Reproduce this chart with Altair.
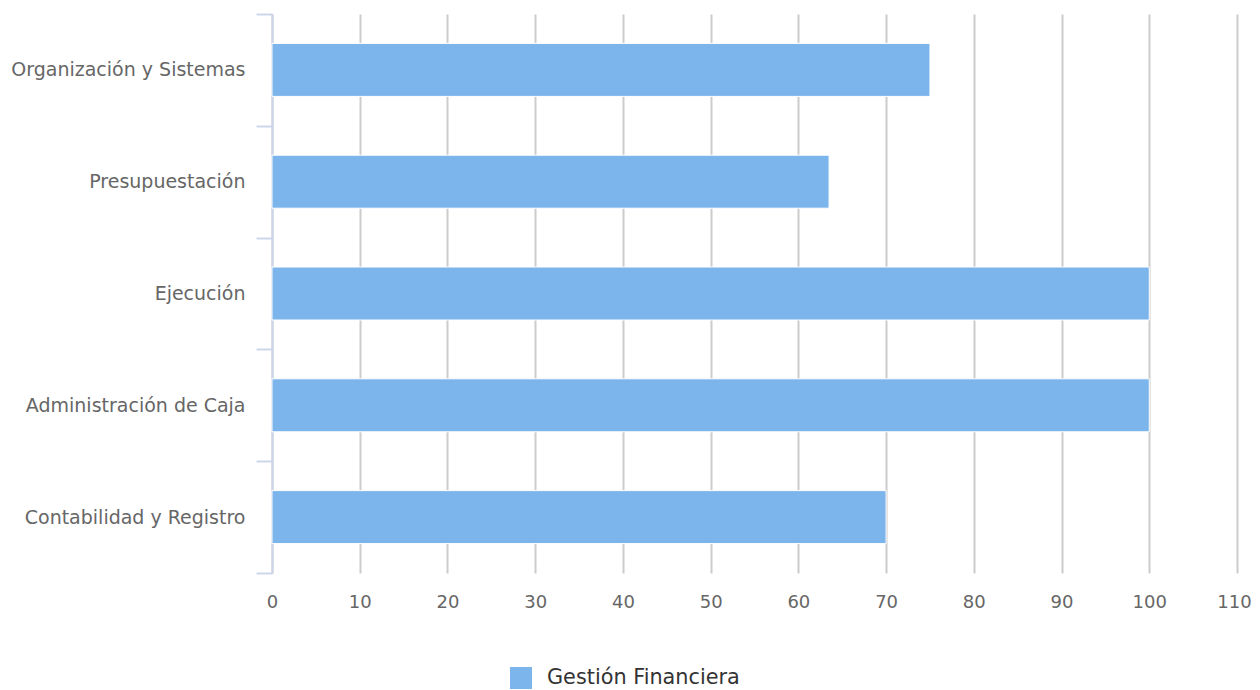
import altair as alt
import pandas as pd

categories = ["Organización y Sistemas", "Presupuestación", "Ejecución",
              "Administración de Caja", "Contabilidad y Registro"]
values = [75, 63.5, 100, 100, 70]
series = ["Gestión Financiera"] * len(categories)
x_ticks = [0, 10, 20, 30, 40, 50, 60, 70, 80, 90, 100, 110]

df = pd.DataFrame({"categoria": categories, "valor": values, "serie": series})

FONT = "DejaVu Sans"

bars = alt.Chart(df).mark_bar(stroke="white", strokeWidth=1, height=53).encode(
    y=alt.Y("categoria:N", sort=categories, title=None,
            scale=alt.Scale(paddingInner=0, paddingOuter=0),
            axis=alt.Axis(tickBand="extent", tickSize=16, tickColor="#ccd6eb",
                          tickWidth=2, domainColor="#ccd6eb", domainWidth=2,
                          labelFontSize=19, labelColor="#666666", labelFont=FONT,
                          labelPadding=11, grid=False, labelLimit=400)),
    x=alt.X("valor:Q", title=None,
            scale=alt.Scale(domain=[0, 110], nice=False),
            axis=alt.Axis(values=x_ticks, grid=True, gridColor="#cccccc", gridWidth=2,
                          ticks=False, domain=False, labelFontSize=18,
                          labelColor="#666666", labelFont=FONT, labelPadding=20,
                          labelFlush=False,
                          labelOffset={"condition": {"test": "datum.value == 110", "value": -3},
                                       "value": 0})),
    color=alt.Color("serie:N", scale=alt.Scale(range=["#7cb5ec"]), title=None,
                    legend=alt.Legend(orient="none", legendX=238, legendY=653,
                                      symbolType="square", symbolSize=484,
                                      symbolStrokeWidth=0, labelFontSize=20.8,
                                      labelColor="#333333", labelFont=FONT,
                                      labelOffset=15, labelLimit=500,
                                      direction="horizontal")),
)

chart = bars.properties(
    width=965, height=559,
    autosize=alt.AutoSizeParams(type="none"),
    padding={"left": 264, "top": 6, "right": 15, "bottom": 116},
).configure_view(stroke=None)

chart.save("out.html", embed_options={"renderer": "svg", "actions": False})
